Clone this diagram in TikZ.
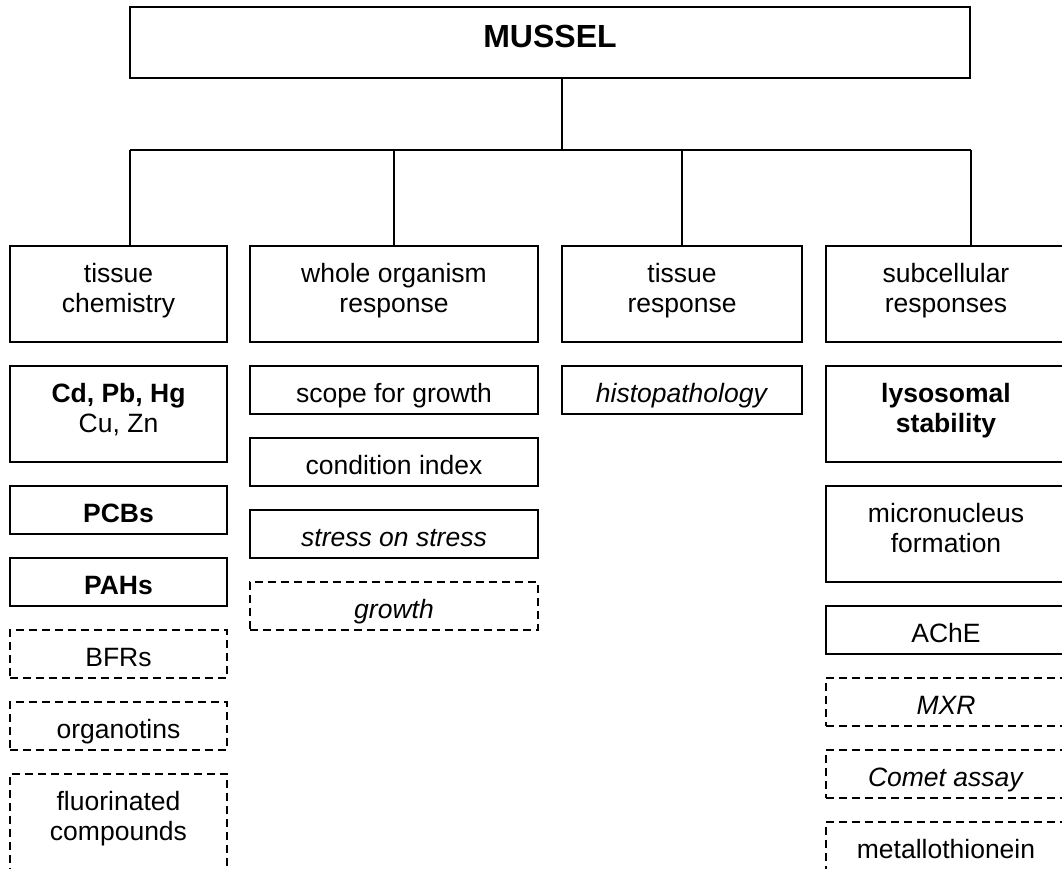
\documentclass[tikz,border=0pt]{standalone}
\usepackage{fontspec}
\setmainfont{Liberation Sans}
\newcommand{\bx}[7]{%
  \node[#2, minimum width={(#5)-(#3)}, minimum height={(#6)-(#4)}] (#1) at ({((#3)+(#5))/2}, {-((#4)+(#6))/2}) {};
  \node[txt] (#1t) at ({((#3)+(#5))/2}, {-(#4)-36}) {\parbox[t]{300pt}{\centering #7}};
}
\begin{document}
\begin{tikzpicture}[x=1pt,y=1pt,
  box/.style={draw=black, line width=1.6pt, rectangle, inner sep=0pt},
  dbox/.style={box, dash pattern=on 8pt off 5pt},
  txt/.style={anchor=base, inner sep=0pt, font=\fontsize{26.5}{30}\selectfont},
  conn/.style={draw=black, line width=1.5pt}]
\clip (0,0) rectangle (1062,-869);
\fill[white] (0,0) rectangle (1062,-869);
% top
\node[box, minimum width=840, minimum height=71] (m) at (550,-42.5) {};
\node[anchor=base, inner sep=0pt, font=\fontsize{32}{36}\selectfont\bfseries] (mt) at (550,-48) {MUSSEL};
% categories
\bx{c1}{box}{10}{246}{227}{342}{tissue\\chemistry}
\bx{c2}{box}{250}{246}{538}{342}{whole organism\\response}
\bx{c3}{box}{562}{246}{802}{342}{tissue\\response}
\bx{c4}{box}{826}{246}{1066}{342}{subcellular\\responses}
% connectors
\coordinate (j) at (562,-150);
\coordinate (b1) at (130,-150);
\coordinate (b2) at (394,-150);
\coordinate (b3) at (682,-150);
\coordinate (b4) at (971,-150);
\draw[conn] (m.south -| j) -- (j);
\draw[conn] (b1) -- (b4);
\draw[conn] (b1) -- (b1 |- c1.north);
\draw[conn] (b2) -- (c2.north);
\draw[conn] (b3) -- (c3.north);
\draw[conn] (b4) -- (b4 |- c4.north);
% left column
\bx{l1}{box}{10}{366}{227}{462}{\textbf{Cd, Pb, Hg}\\Cu, Zn}
\bx{l2}{box}{10}{486}{227}{534}{\textbf{PCBs}}
\bx{l3}{box}{10}{558}{227}{606}{\textbf{PAHs}}
\bx{l4}{dbox}{10}{630}{227}{678}{BFRs}
\bx{l5}{dbox}{10}{702}{227}{750}{organotins}
\bx{l6}{dbox}{10}{774}{227}{870}{fluorinated\\compounds}
% middle column
\bx{w1}{box}{250}{366}{538}{414}{scope for growth}
\bx{w2}{box}{250}{438}{538}{486}{condition index}
\bx{w3}{box}{250}{510}{538}{558}{\textit{stress on stress}}
\bx{w4}{dbox}{250}{582}{538}{630}{\textit{growth}}
% tissue response
\bx{t1}{box}{562}{366}{802}{414}{\textit{histopathology}}
% subcellular
\bx{s1}{box}{826}{366}{1066}{462}{\textbf{lysosomal}\\\textbf{stability}}
\bx{s2}{box}{826}{486}{1066}{582}{micronucleus\\formation}
\bx{s3}{box}{826}{606}{1066}{654}{AChE}
\bx{s4}{dbox}{826}{678}{1066}{726}{\textit{MXR}}
\bx{s5}{dbox}{826}{750}{1066}{798}{\textit{Comet assay}}
\bx{s6}{dbox}{826}{822}{1066}{870}{metallothionein}
\end{tikzpicture}
\end{document}
